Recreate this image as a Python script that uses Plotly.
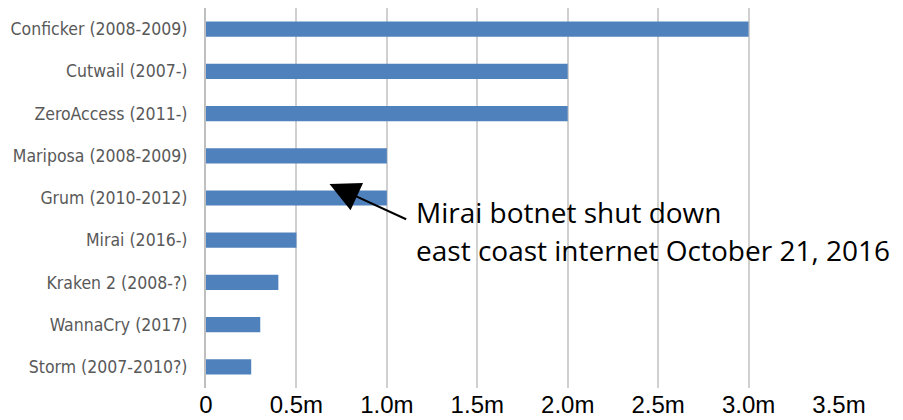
import plotly.graph_objects as go

categories = ["Conficker (2008-2009)", "Cutwail (2007-)", "ZeroAccess (2011-)",
              "Mariposa (2008-2009)", "Grum (2010-2012)", "Mirai (2016-)",
              "Kraken 2 (2008-?)", "WannaCry (2017)", "Storm (2007-2010?)"]
values_millions = [3.0, 2.0, 2.0, 1.0, 1.0, 0.5, 0.4, 0.3, 0.25]
tick_values = [0, 0.5, 1.0, 1.5, 2.0, 2.5, 3.0, 3.5]
tick_labels = ["0", "0.5m", "1.0m", "1.5m", "2.0m", "2.5m", "3.0m", "3.5m"]
note_line1 = "Mirai botnet shut down"
note_line2 = "east coast internet October 21, 2016"

fig = go.Figure(go.Bar(
    x=values_millions, y=categories, orientation="h",
    marker=dict(color="#4F81BD", line=dict(width=0)), width=0.36,
))

note_font = dict(family="Open Sans, sans-serif", size=28, color="black")

# page has an 8px body margin, so the figure is sized to the visible area
fig.update_layout(
    width=895, height=412,
    margin=dict(l=198, r=64, t=0, b=32),
    paper_bgcolor="white", plot_bgcolor="white",
    showlegend=False,
    xaxis=dict(range=[0, 3.5], tickvals=tick_values, ticktext=tick_labels,
               showgrid=True, gridcolor="#D0D0D0", gridwidth=1.5, zeroline=False,
               automargin=False,
               tickfont=dict(family="Liberation Sans Narrow, Arial Narrow, sans-serif", size=24, color="black"),
               ticks="", ticklabelstandoff=0),
    yaxis=dict(autorange="reversed", showline=True, linecolor="#BFBFBF", linewidth=2,
               showgrid=False, ticks="", ticklabelstandoff=13, automargin=False,
               tickfont=dict(family="DejaVu Sans Condensed, DejaVu Sans, sans-serif", size=17.5, color="#595959")),
    annotations=[
        dict(x=0.683, y=3.67, ax=1.115, ay=4.52, xref="x", yref="y", axref="x", ayref="y",
             text="", showarrow=True, arrowhead=2, arrowsize=3, arrowwidth=2, arrowcolor="black"),
        dict(x=1.15, y=4.33, xref="x", yref="y", xanchor="left", yanchor="middle", align="left",
             text=note_line1, showarrow=False, font=note_font),
        dict(x=1.15, y=5.24, xref="x", yref="y", xanchor="left", yanchor="middle", align="left",
             text=note_line2, showarrow=False, font=note_font),
    ],
)

fig.write_html("out.html")
